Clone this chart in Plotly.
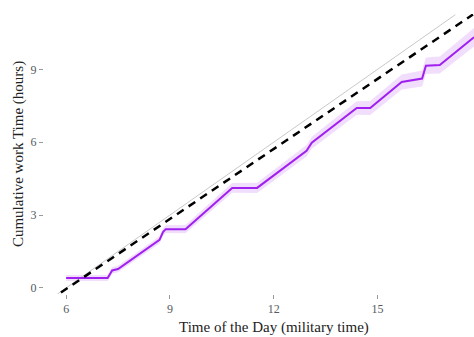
import plotly.graph_objects as go

# Observed cumulative work time (hours) vs time of day
time_of_day = [6.00, 7.20, 7.33, 7.50, 8.70, 8.80, 8.88, 9.45, 10.80, 11.52,
               12.95, 13.10, 14.40, 14.79, 15.70, 16.29, 16.40, 16.80, 17.79]
cum_hours = [0.41, 0.41, 0.72, 0.78, 1.98, 2.30, 2.42, 2.42, 4.12, 4.12,
             5.65, 5.98, 7.41, 7.41, 8.48, 8.62, 9.15, 9.18, 10.32]
band_halfwidth = [0.12, 0.12, 0.13, 0.13, 0.15, 0.15, 0.16, 0.17, 0.20, 0.21,
                  0.24, 0.25, 0.28, 0.29, 0.31, 0.33, 0.34, 0.35, 0.38]

# Reference line (one hour of work per hour of day)
ref_x = [5.75, 17.25]
ref_y = [-0.25, 11.25]

# Fitted trend (dashed)
fit_x = [5.85, 17.76]
fit_y = [-0.19, 11.26]

x_ticks = [6, 9, 12, 15]
y_ticks = [0, 3, 6, 9]

lower = [v - w for v, w in zip(cum_hours, band_halfwidth)]
upper = [v + w for v, w in zip(cum_hours, band_halfwidth)]

fig = go.Figure()
fig.add_trace(go.Scatter(x=time_of_day, y=lower, mode="lines",
                         line=dict(width=0), hoverinfo="skip", showlegend=False))
fig.add_trace(go.Scatter(x=time_of_day, y=upper, mode="lines", fill="tonexty",
                         fillcolor="rgba(170,60,240,0.17)",
                         line=dict(width=0), hoverinfo="skip", showlegend=False))
fig.add_trace(go.Scatter(x=ref_x, y=ref_y, mode="lines",
                         line=dict(color="#c8c8c8", width=1), showlegend=False))
fig.add_trace(go.Scatter(x=time_of_day, y=cum_hours, mode="lines",
                         line=dict(color="#a020f0", width=2), showlegend=False))
fig.add_trace(go.Scatter(x=fit_x, y=fit_y, mode="lines",
                         line=dict(color="black", width=2.5, dash="8px,6px"),
                         showlegend=False))

serif = "Liberation Serif, Times New Roman, serif"
fig.update_layout(
    width=474, height=337,
    margin=dict(l=44, r=0, t=14, b=43),
    plot_bgcolor="white", paper_bgcolor="white",
    font=dict(family=serif, color="#4d4d4d", size=12),
    xaxis=dict(range=[5.36, 17.79], tickvals=x_ticks, ticks="outside", ticklen=4,
               tickcolor="#9a9a9a", showgrid=False, zeroline=False, showline=False,
               tickfont=dict(family=serif, size=12, color="#555a60")),
    yaxis=dict(range=[-0.25, 11.28], tickvals=y_ticks, ticks="outside", ticklen=4,
               tickcolor="#9a9a9a", showgrid=False, zeroline=False, showline=False,
               tickfont=dict(family=serif, size=12, color="#555a60"),
               title=dict(text="Cumulative work Time (hours)",
                          font=dict(family=serif, size=15, color="#222222"),
                          standoff=3)),
    annotations=[dict(text="Time of the Day (military time)", xref="paper", yref="paper",
                      x=0.534, y=0, yshift=-33, xanchor="center", yanchor="middle",
                      showarrow=False,
                      font=dict(family=serif, size=15, color="#222222"))],
)

fig.write_html("out.html",
               config={"responsive": False, "displayModeBar": False},
               post_script="document.body.style.margin='0';"
                           "document.body.style.overflow='hidden';")
